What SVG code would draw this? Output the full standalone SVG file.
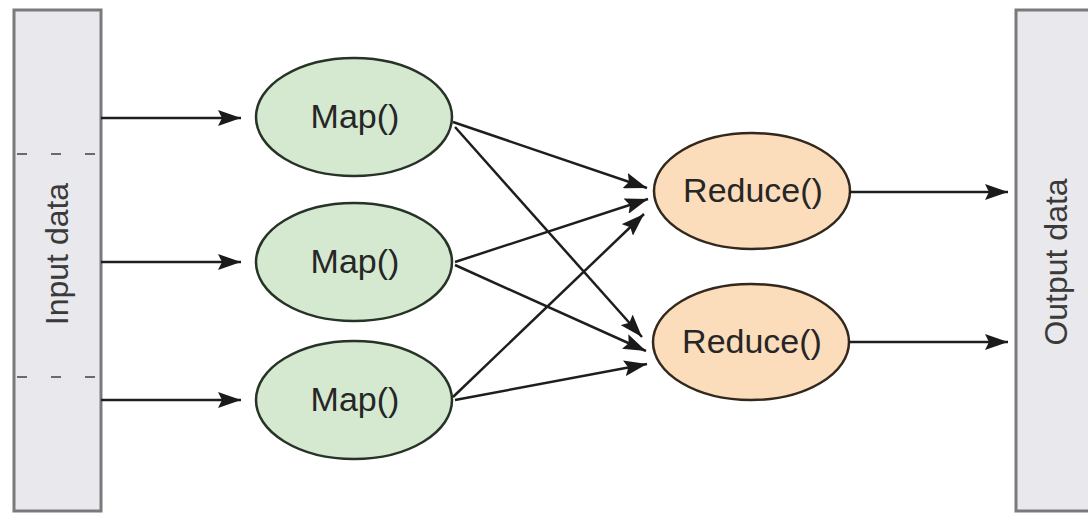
<svg xmlns="http://www.w3.org/2000/svg" width="1088" height="513" viewBox="0 0 1088 513">
  <style>
    .box { fill: #e9e9ed; stroke: #7a7a7a; stroke-width: 3; }
    .dash { stroke: #6a6a6a; stroke-width: 2; stroke-dasharray: 10 24; fill: none; }
    .map { fill: #d5e8d0; stroke: #263326; stroke-width: 2.5; }
    .red { fill: #fbdcbb; stroke: #33281c; stroke-width: 2.5; }
    .lbl { font-family: "Liberation Sans", Arial, sans-serif; font-size: 34px; fill: #262626; text-anchor: middle; dominant-baseline: central; }
    .side { font-family: "Liberation Sans", Arial, sans-serif; font-size: 32px; fill: #3a3a3a; text-anchor: middle; dominant-baseline: central; }
    .conn line { stroke: #1e1e1e; stroke-width: 2.5; marker-end: url(#arrow); }
  </style>
  <defs>
    <marker id="arrow" markerUnits="userSpaceOnUse" markerWidth="24" markerHeight="16" refX="23" refY="8" orient="auto">
      <path d="M0,0 L23,8 L0,16 L4,8 z" fill="#1a1a1a"/>
    </marker>
  </defs>
  <rect width="1088" height="513" fill="#ffffff"/>

  <g id="input">
    <rect class="box" x="14" y="10" width="87" height="501"/>
    <line class="dash" x1="17" y1="154" x2="101" y2="154"/>
    <line class="dash" x1="17" y1="377" x2="101" y2="377"/>
    <text class="side" transform="translate(57,254) rotate(-90)">Input data</text>
  </g>

  <g id="output">
    <rect class="box" x="1016" y="10" width="80" height="501"/>
    <text class="side" transform="translate(1056,262) rotate(-90)">Output data</text>
  </g>

  <g id="map1">
    <ellipse class="map" cx="354" cy="117" rx="98" ry="59"/>
    <text class="lbl" x="355" y="116">Map()</text>
  </g>
  <g id="map2">
    <ellipse class="map" cx="354" cy="262" rx="98" ry="59"/>
    <text class="lbl" x="355" y="261">Map()</text>
  </g>
  <g id="map3">
    <ellipse class="map" cx="354" cy="400" rx="98" ry="59"/>
    <text class="lbl" x="355" y="399">Map()</text>
  </g>
  <g id="reduce1">
    <ellipse class="red" cx="752" cy="191" rx="98" ry="58"/>
    <text class="lbl" x="753" y="190">Reduce()</text>
  </g>
  <g id="reduce2">
    <ellipse class="red" cx="751" cy="342" rx="98" ry="58"/>
    <text class="lbl" x="752" y="341">Reduce()</text>
  </g>

  <g id="connectors" class="conn">
    <line x1="101" y1="118" x2="241" y2="118"/>
    <line x1="101" y1="262" x2="241" y2="262"/>
    <line x1="101" y1="400" x2="241" y2="400"/>
    <line x1="453" y1="122" x2="647" y2="188"/>
    <line x1="455" y1="127" x2="642" y2="337"/>
    <line x1="455" y1="262" x2="648" y2="199"/>
    <line x1="455" y1="265" x2="646" y2="351"/>
    <line x1="453" y1="397" x2="644" y2="214"/>
    <line x1="455" y1="400" x2="647" y2="364"/>
    <line x1="849" y1="192" x2="1008" y2="192"/>
    <line x1="849" y1="342" x2="1008" y2="342"/>
  </g>
</svg>
